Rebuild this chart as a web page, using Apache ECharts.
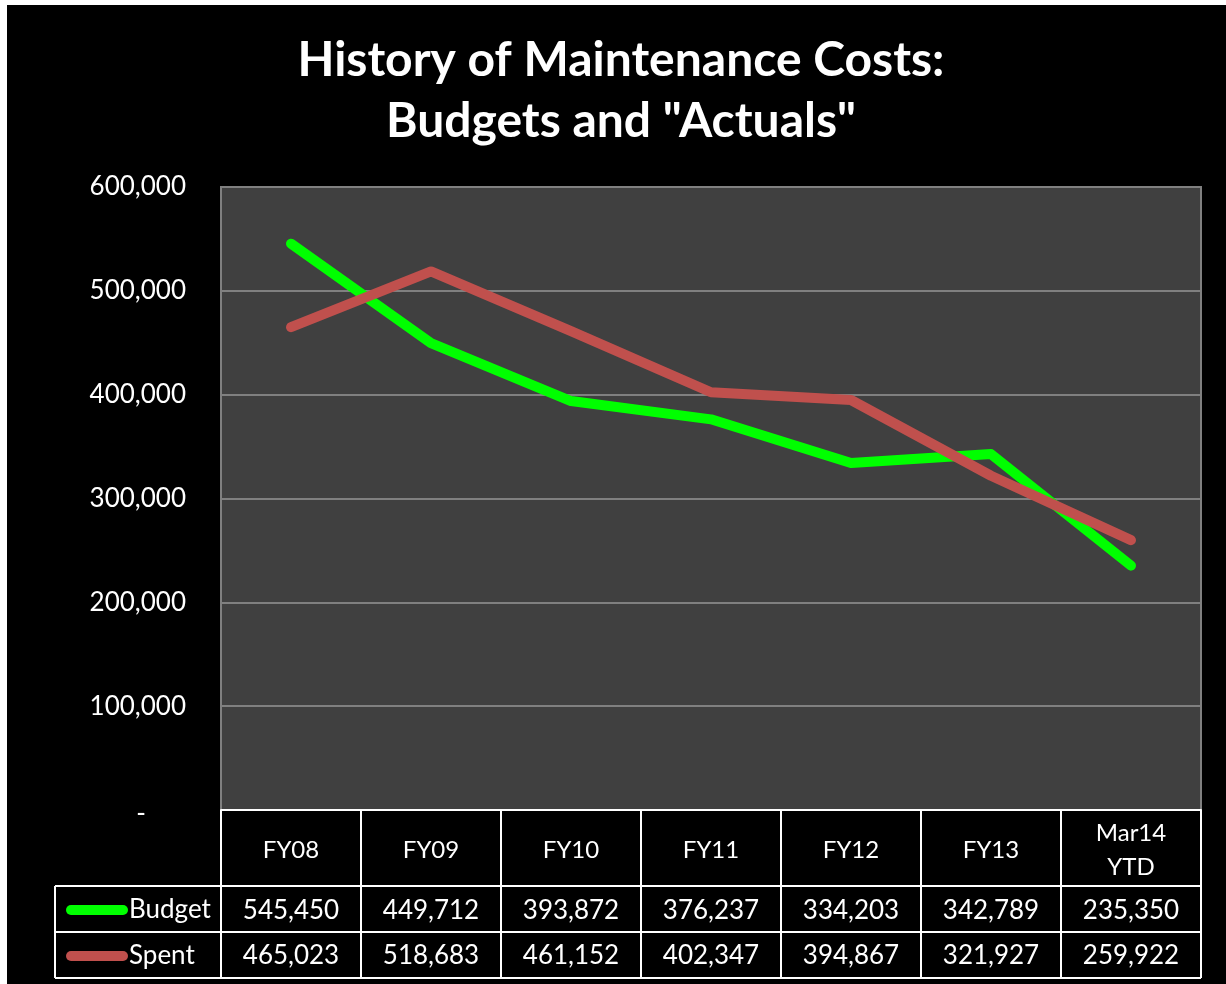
<!DOCTYPE html>
<html>
<head>
<meta charset="utf-8">
<script src="https://cdn.jsdelivr.net/npm/echarts@6/dist/echarts.min.js"></script>
<style>
  html, body { margin: 0; padding: 0; background: #ffffff; }
  #chart { position: absolute; left: 7px; top: 5px; width: 1219px; height: 979px; background: #000000; }
</style>
</head>
<body>
<div id="chart"></div>
<script>
const categories = ['FY08', 'FY09', 'FY10', 'FY11', 'FY12', 'FY13', 'Mar14\nYTD']
const budget = [545450, 449712, 393872, 376237, 334203, 342789, 235350]
const spent = [465023, 518683, 461152, 402347, 394867, 321927, 259922]
const yTicks = [0, 100000, 200000, 300000, 400000, 500000, 600000]

const GREEN = '#00ff00'
const RED = '#c0504d'
const GRID_LINE = '#808080'
const PLOT_BG = '#404040'
const FONT = 'Lato, "Open Sans", sans-serif'
const NUM_SIZE = 26

// plot area in chart coords (div is offset by 7,5 on the page)
const PLOT_LEFT = 214
const PLOT_RIGHT = 1194
const PLOT_BOTTOM = 805
const ROW1 = 906
const ROW2 = 951
const TABLE_LEFT = 48
const TABLE_BOTTOM = 973

const fmt = (v) => v === 0 ? '-' : v.toLocaleString('en-US')

const chart = echarts.init(document.getElementById('chart'))

const hLine = (y, x1) => ({
  type: 'line',
  shape: { x1, y1: y, x2: PLOT_RIGHT, y2: y },
  style: { stroke: '#ffffff', lineWidth: 2 },
  silent: true
})

const rowAxis = (values, margin) => ({
  type: 'category',
  gridIndex: 0,
  position: 'bottom',
  data: categories,
  boundaryGap: true,
  axisLine: { show: false },
  axisTick: { show: false },
  axisLabel: {
    margin,
    verticalAlign: 'middle',
    color: '#ffffff',
    fontSize: NUM_SIZE,
    fontFamily: FONT,
    formatter: (v, i) => fmt(values[i])
  }
})

const option = {
  backgroundColor: 'transparent',
  animation: false,
  graphic: [
    {
      type: 'text',
      style: {
        x: 614, y: 25,
        text: 'History of Maintenance Costs:\nBudgets and "Actuals"',
        textAlign: 'center',
        fill: '#ffffff',
        font: 'bold 48px ' + FONT,
        lineHeight: 61
      }
    },
    hLine(881, TABLE_LEFT),
    hLine(927, TABLE_LEFT),
    hLine(TABLE_BOTTOM, TABLE_LEFT),
    {
      type: 'line',
      shape: { x1: TABLE_LEFT, y1: 881, x2: TABLE_LEFT, y2: TABLE_BOTTOM },
      style: { stroke: '#ffffff', lineWidth: 2 },
      silent: true
    }
  ],
  legend: {
    data: ['Budget', 'Spent'],
    orient: 'vertical',
    left: 54,
    top: ROW1 - 19,
    itemGap: 20,
    itemWidth: 62,
    itemHeight: 11,
    icon: 'path://M5,0 L57,0 A5,5 0 0 1 57,10 L5,10 A5,5 0 0 1 5,0 Z',
    selectedMode: false,
    textStyle: { color: '#ffffff', fontSize: NUM_SIZE, fontFamily: FONT, lineHeight: 26, padding: [0, 0, 0, -4] }
  },
  grid: {
    left: PLOT_LEFT,
    right: 1219 - PLOT_RIGHT,
    top: 182,
    bottom: 979 - PLOT_BOTTOM,
    show: true,
    backgroundColor: PLOT_BG,
    borderColor: GRID_LINE,
    borderWidth: 2
  },
  xAxis: [
    {
      type: 'category',
      data: categories,
      boundaryGap: true,
      axisLine: { lineStyle: { color: '#ffffff', width: 2 } },
      axisTick: { show: true, length: TABLE_BOTTOM - PLOT_BOTTOM, lineStyle: { color: '#ffffff', width: 2 } },
      axisLabel: {
        margin: 40,
        verticalAlign: 'middle',
        color: '#ffffff',
        fontSize: 24,
        fontFamily: FONT,
        lineHeight: 34,
        interval: 0
      }
    },
    rowAxis(budget, ROW1 - PLOT_BOTTOM),
    rowAxis(spent, ROW2 - PLOT_BOTTOM)
  ],
  yAxis: {
    type: 'value',
    min: yTicks[0],
    max: yTicks[yTicks.length - 1],
    interval: yTicks[1] - yTicks[0],
    axisLine: { show: false },
    axisTick: { show: false },
    splitLine: { lineStyle: { color: GRID_LINE, width: 2 } },
    axisLabel: {
      margin: 35,
      color: '#ffffff',
      fontSize: NUM_SIZE,
      fontFamily: FONT,
      formatter: (v) => v === 0 ? '{d|-}' : fmt(v),
      rich: { d: { color: '#ffffff', fontSize: NUM_SIZE, fontFamily: FONT, padding: [8, 40, 0, 0] } }
    }
  },
  series: [
    {
      name: 'Budget',
      type: 'line',
      data: budget,
      symbol: 'none',
      color: GREEN,
      lineStyle: { color: GREEN, width: 10, cap: 'round', join: 'round' }
    },
    {
      name: 'Spent',
      type: 'line',
      data: spent,
      symbol: 'none',
      color: RED,
      lineStyle: { color: RED, width: 10, cap: 'round', join: 'round' }
    }
  ]
}

chart.setOption(option)
</script>
</body>
</html>
